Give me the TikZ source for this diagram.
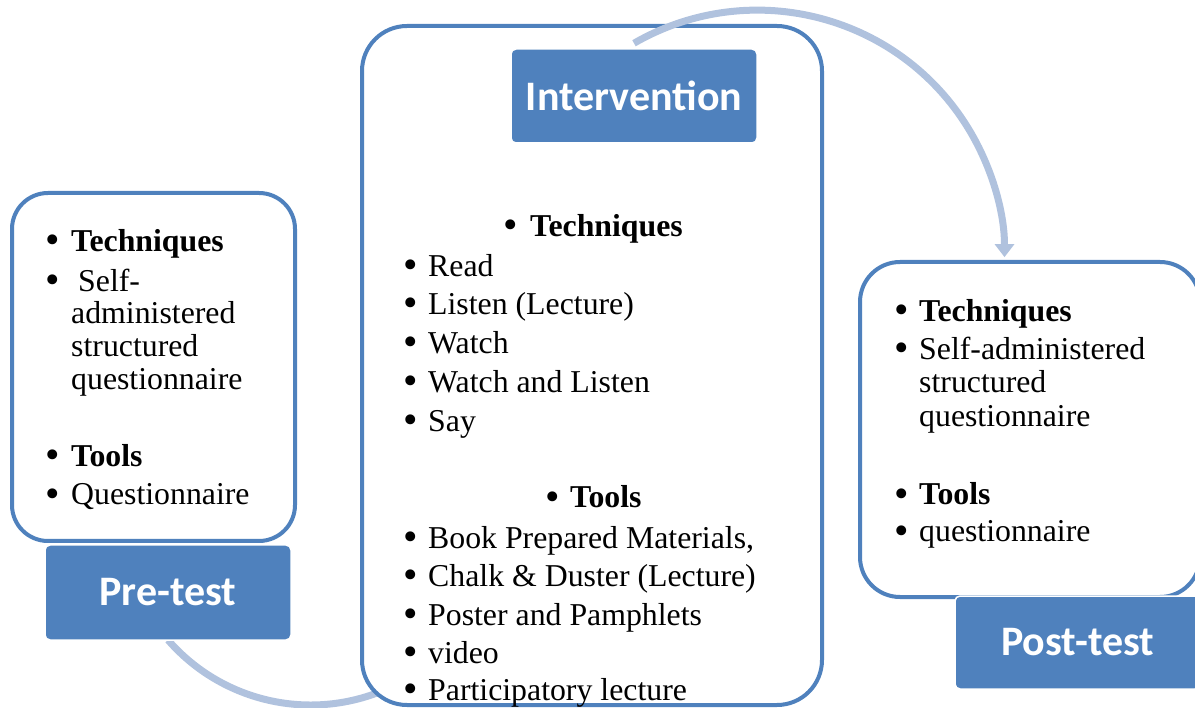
\documentclass[tikz,border=0pt]{standalone}
\usepackage{fontspec}
\setmainfont{Liberation Serif}
\newfontfamily\labfont{Carlito}
\usetikzlibrary{arrows.meta,calc}
\definecolor{accblue}{RGB}{79,129,189}
\definecolor{flowblue}{RGB}{176,194,222}
\newcommand{\bul}{\raisebox{-2pt}[0pt][0pt]{\scalebox{1.3}{•}}}
\tikzset{
  panel/.style={draw=accblue, line width=4pt, fill=white, inner sep=0pt},
  labelbox/.style={draw=white, line width=1.5pt, fill=accblue, rounded corners=5pt, inner sep=0pt,
    text=white, font=\labfont\bfseries\fontsize{42}{48}\selectfont},
  txt/.style={anchor=base west, inner sep=0pt, font=\fontsize{31.8}{38}\selectfont},
  btxt/.style={txt, font=\bfseries\fontsize{31.8}{38}\selectfont},
  flow/.style={draw=flowblue, line width=7pt},
}
\begin{document}
\begin{tikzpicture}[x=1pt,y=-1pt]
\useasboundingbox (0,0) rectangle (1195,708);
\clip (0,0) rectangle (1195,708);

% left panel
\node[panel, rounded corners=36pt, minimum width=283pt, minimum height=348pt] (left) at (153.5,367) {};

% flow from pre-test into intervention (lies under the boxes)
\coordinate (s1) at (168,640);
\draw[flow] (s1) arc[start angle=139, end angle=66, radius=189];

% pre-test label
\node[labelbox, minimum width=246pt, minimum height=95pt] (pre) at (168,592.5) {Pre-test};

% middle panel
\node[panel, rounded corners=45pt, minimum width=460pt, minimum height=679pt] (mid) at (592,365.5) {};
\node[labelbox, minimum width=246pt, minimum height=94pt] (int) at (634,96) {Intervention};

% right panel
\node[panel, rounded corners=40pt, minimum width=340pt, minimum height=335pt] (right) at (1030,429.5) {};
\node[labelbox, minimum width=245pt, minimum height=93pt] (post) at (1077.5,642.5) {Post-test};

% flow from intervention to post-test
\draw[flow, -{Triangle[width=19pt,length=13pt]}] ($(int.north)+(0,-5)$) arc[start angle=240, end angle=360, radius=247];

% left panel text
\node[txt] (lb1) at (45,251.5) {\bul};
\node[btxt] (lt1) at (71,251.5) {Techniques};
\node[txt] (lb2) at (45,291.5) {\bul};
\node[txt] (lt2) at (71,291.5) {\hspace{7pt}Self-};
\node[txt] (lt3) at (71,324) {administered};
\node[txt] (lt4) at (71,357) {structured};
\node[txt] (lt5) at (71,390) {questionnaire};
\node[txt] (lb3) at (45,466.5) {\bul};
\node[btxt] (lt6) at (71,466.5) {Tools};
\node[txt] (lb4) at (45,505) {\bul};
\node[txt] (lt7) at (71,505) {Questionnaire};

% middle panel text
\node[txt] (mb0) at (503,237) {\bul};
\node[btxt] (mh1) at (530,237) {Techniques};
\node[txt] (mb1) at (403,276.5) {\bul};
\node[txt] (mt1) at (428,276.5) {Read};
\node[txt] (mb2) at (403,315) {\bul};
\node[txt] (mt2) at (428,315) {Listen (Lecture)};
\node[txt] (mb3) at (403,354) {\bul};
\node[txt] (mt3) at (428,354) {Watch};
\node[txt] (mb4) at (403,392.5) {\bul};
\node[txt] (mt4) at (428,392.5) {Watch and Listen};
\node[txt] (mb5) at (403,431.5) {\bul};
\node[txt] (mt5) at (428,431.5) {Say};
\node[txt] (mb6) at (545,508) {\bul};
\node[btxt] (mh2) at (570,508) {Tools};
\node[txt] (mb7) at (403,548) {\bul};
\node[txt] (mt7) at (428,548) {Book Prepared Materials,};
\node[txt] (mb8) at (403,586.5) {\bul};
\node[txt] (mt8) at (428,586.5) {Chalk \& Duster (Lecture)};
\node[txt] (mb9) at (403,625) {\bul};
\node[txt] (mt9) at (428,625) {Poster and Pamphlets};
\node[txt] (mb10) at (403,663) {\bul};
\node[txt] (mt10) at (428,663) {video};
\node[txt] (mb11) at (403,700) {\bul};
\node[txt] (mt11) at (428,700) {Participatory lecture};

% right panel text
\node[txt] (rb1) at (894,321.5) {\bul};
\node[btxt] (rt1) at (919,321.5) {Techniques};
\node[txt] (rb2) at (894,360) {\bul};
\node[txt] (rt2) at (919,360) {Self-administered};
\node[txt] (rt3) at (919,393) {structured};
\node[txt] (rt4) at (919,427) {questionnaire};
\node[txt] (rb3) at (894,505) {\bul};
\node[btxt] (rt5) at (919,505) {Tools};
\node[txt] (rb4) at (894,542) {\bul};
\node[txt] (rt6) at (919,542) {questionnaire};
\end{tikzpicture}
\end{document}
